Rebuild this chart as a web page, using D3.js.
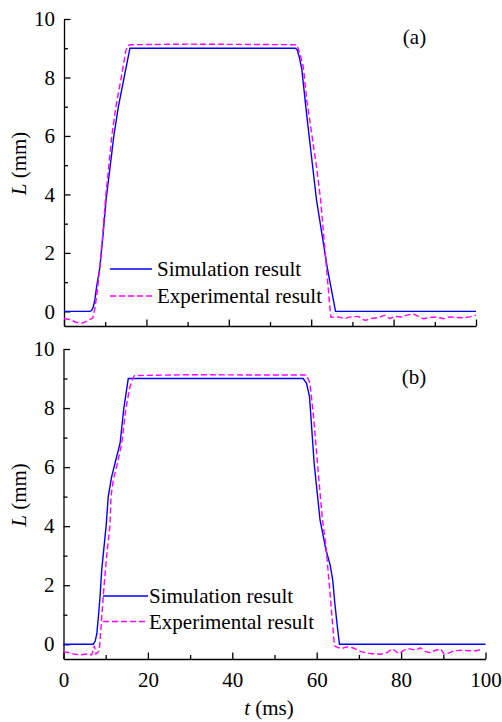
<!DOCTYPE html>
<html>
<head>
<meta charset="utf-8">
<script src="https://cdn.jsdelivr.net/npm/d3@7"></script>
<style>
  body { margin: 0; background: #fff; }
</style>
</head>
<body>
<div id="chart"></div>
<script>
//////////////////////////// data /////////////////////////////////////////

// [t (ms), L (mm)]
const simA = [
  [0, 0], [6.3, 0], [6.7, 0.03], [7.1, 0.15], [7.5, 0.4], [7.9, 0.83], [8.7, 1.5],
  [9.5, 2.66], [10.2, 3.8], [12.1, 6], [13.2, 7], [14.6, 8], [16.0, 9],
  [56.1, 9], [56.6, 8.95], [57.1, 8.7], [57.7, 8.3], [59.0, 6.6], [61.3, 3.8],
  [63.9, 1.5], [65.9, 0], [100, 0]
];
const expA = [
  [0, -0.25], [1.5, -0.28], [3, -0.38], [4.5, -0.4], [6, -0.3], [7, -0.22],
  [7.5, 0.1], [8.0, 0.6], [8.7, 1.5], [9.4, 2.6], [10.1, 3.9], [10.9, 5],
  [11.6, 6], [12.6, 7], [13.9, 8], [15.0, 8.9], [15.4, 9.08], [16, 9.12],
  [30, 9.14], [45, 9.13], [56.5, 9.12], [57.3, 8.8], [58.1, 8.35], [58.9, 7.25],
  [60.1, 6.1], [61.3, 4.94], [62.3, 3.8], [64.6, 0.03], [64.8, -0.2],
  [66.6, -0.19], [68.2, -0.25], [69.4, -0.19], [71.4, -0.17], [73.1, -0.31],
  [74.3, -0.25], [76.3, -0.21], [77.9, -0.13], [79.1, -0.25], [80.3, -0.17],
  [82.0, -0.19], [83.2, -0.13], [84.8, -0.08], [86.0, -0.17], [87.2, -0.25],
  [88.8, -0.21], [90.5, -0.19], [92.1, -0.25], [93.7, -0.19], [95.3, -0.21],
  [96.9, -0.22], [98.5, -0.19], [100, -0.13]
];
const simB = [
  [0, 0], [7.06, 0], [7.5, 0.1], [7.9, 0.36], [8.3, 0.98], [8.65, 1.6], [9.05, 2.5],
  [9.6, 3.3], [10.1, 4.0], [10.6, 5.0], [11.4, 5.67], [12.4, 6.24], [13.4, 6.8],
  [14.3, 8.0], [15.35, 9], [56.8, 9], [57.6, 8.84], [58.3, 8.38], [59.4, 6.12],
  [60.8, 4.2], [62.2, 3.19], [63.2, 2.68], [63.8, 2.17], [64.3, 1.38],
  [64.9, 0.59], [65.4, 0], [100, 0]
];
const expB = [
  [0, -0.26], [1.2, -0.28], [2.3, -0.33], [3.9, -0.36], [5.6, -0.33], [6.7, -0.36],
  [7.3, -0.05], [7.7, -0.33], [8.25, -0.26], [8.5, -0.2], [9.0, 0.8], [9.6, 1.95],
  [10.3, 3.1], [11.0, 4.0], [11.25, 5.0], [11.8, 5.56], [12.75, 6.12], [13.8, 6.8],
  [14.8, 8.0], [15.75, 8.72], [16.3, 8.95], [16.8, 9.1], [30, 9.13], [45, 9.12],
  [57.6, 9.12], [58.4, 8.84], [59.2, 7.8], [60.2, 6.1], [61.3, 4.3], [62.2, 3.3],
  [63.0, 2.0], [63.7, 0.8], [64.2, -0.05], [64.6, -0.09], [65.9, -0.15],
  [67.0, -0.09], [68.5, -0.12], [70.5, -0.25], [71.7, -0.29], [73.2, -0.32],
  [75.2, -0.34], [76.7, -0.28], [77.9, -0.15], [79.5, -0.32], [80.7, -0.2],
  [81.9, -0.15], [83.4, -0.2], [84.6, -0.12], [85.8, -0.25], [87.0, -0.29],
  [87.8, -0.22], [89.4, -0.16], [90.2, -0.34], [91.4, -0.29], [92.6, -0.22],
  [94.6, -0.2], [96.2, -0.22], [97.8, -0.22], [99.4, -0.16]
];

const xTicks = [0, 20, 40, 60, 80, 100];
const xMinor = [10, 30, 50, 70, 90];
const yTicks = [0, 2, 4, 6, 8, 10];
const yMinor = [1, 3, 5, 7, 9];
const legendLabels = ["Simulation result", "Experimental result"];
const panelLabels = ["(a)", "(b)"];

//////////////////////////// svg ///////////////////////////////////////////

const width = 502;
const height = 722;
const serif = '"Liberation Serif"';
const fontSize = "21px";

const svg = d3.select("#chart").append("svg")
  .attr("width", width)
  .attr("height", height)
  .style("font-family", serif);

const colors = { sim: "#0000ff", exp: "#ff00ff" };

const panels = [
  { sim: simA, exp: expA, label: panelLabels[0], left: 64, right: 476, top: 19, bottom: 326,
    showXLabels: false, lab: [414.5, 43.5], legX: [110, 152], legY: [269, 296], legText: 157 },
  { sim: simB, exp: expB, label: panelLabels[1], left: 63.5, right: 485.5, top: 349, bottom: 659,
    showXLabels: true, lab: [414, 383.5], legX: [103, 148], legY: [596, 621.5], legText: 149 }
];

// every text gets the serif face inline
const addText = (parent) => parent.append("text").style("font-family", serif).attr("fill", "#000");

const drawPanel = (p) => {
  const x = d3.scaleLinear().domain([0, 100]).range([p.left, p.right]);
  const y = d3.scaleLinear().domain([-0.5, 10]).range([p.bottom, p.top]);
  const g = svg.append("g");

  // axes (ticks point inward)
  g.append("g")
    .attr("transform", `translate(0,${p.bottom})`)
    .call(d3.axisBottom(x).tickValues(xTicks).tickSize(-6.5).tickSizeOuter(0).tickPadding(13)
      .tickFormat(p.showXLabels ? d3.format("d") : ""));
  g.append("g")
    .attr("transform", `translate(0,${p.bottom})`)
    .call(d3.axisBottom(x).tickValues(xMinor).tickSize(-4).tickFormat(""))
    .select(".domain").remove();

  g.append("g")
    .attr("transform", `translate(${p.left},0)`)
    .call(d3.axisLeft(y).tickValues(yTicks).tickSize(-6.5).tickSizeOuter(0).tickPadding(9));
  g.append("g")
    .attr("transform", `translate(${p.left},0)`)
    .call(d3.axisLeft(y).tickValues(yMinor).tickSize(-4).tickFormat(""))
    .select(".domain").remove();

  g.selectAll("g").attr("font-family", null).attr("font-size", null);
  g.selectAll(".domain, .tick line").attr("stroke", "#000").attr("stroke-width", 1.3);
  g.selectAll(".tick text")
    .style("font-family", serif)
    .style("font-size", fontSize)
    .attr("fill", "#000");

  // y title
  const yt = addText(g)
    .attr("transform", `translate(26,${(p.top + p.bottom) / 2 - 9}) rotate(-90)`)
    .attr("text-anchor", "middle")
    .style("font-size", fontSize);
  yt.append("tspan").style("font-style", "italic").text("L");
  yt.append("tspan").text(" (mm)");

  // lines
  const line = d3.line().x((d) => x(d[0])).y((d) => y(d[1]));

  g.append("path")
    .datum(p.sim)
    .attr("d", line)
    .attr("fill", "none")
    .attr("stroke", colors.sim)
    .attr("stroke-width", 1.4);

  g.append("path")
    .datum(p.exp)
    .attr("d", line)
    .attr("fill", "none")
    .attr("stroke", colors.exp)
    .attr("stroke-width", 1.4)
    .attr("stroke-dasharray", "6,3");

  // panel label
  addText(g)
    .attr("x", p.lab[0])
    .attr("y", p.lab[1])
    .attr("text-anchor", "middle")
    .style("font-size", fontSize)
    .text(p.label);

  // legend
  const leg = [
    { key: "sim", dash: null },
    { key: "exp", dash: "6,3" }
  ];
  leg.forEach((l, i) => {
    g.append("line")
      .attr("x1", p.legX[0]).attr("x2", p.legX[1])
      .attr("y1", p.legY[i]).attr("y2", p.legY[i])
      .attr("stroke", colors[l.key])
      .attr("stroke-width", 1.4)
      .attr("stroke-dasharray", l.dash);
    addText(g)
      .attr("x", p.legText)
      .attr("y", p.legY[i] + 7)
      .style("font-size", fontSize)
      .text(legendLabels[i]);
  });
};

panels.forEach(drawPanel);

// x title
const xt = addText(svg)
  .attr("x", 269)
  .attr("y", 715)
  .attr("text-anchor", "middle")
  .style("font-size", fontSize);
xt.append("tspan").style("font-style", "italic").text("t");
xt.append("tspan").text(" (ms)");
</script>
</body>
</html>
